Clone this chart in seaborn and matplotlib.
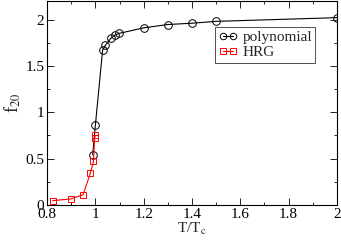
import pandas as pd
import matplotlib.pyplot as plt
import seaborn as sns
from matplotlib.ticker import MultipleLocator

# polynomial fit points
poly_t = [0.989, 1.0, 1.03, 1.041, 1.065, 1.083, 1.098, 1.2, 1.3, 1.4, 1.5, 2.0]
poly_f = [0.54, 0.86, 1.67, 1.72, 1.80, 1.835, 1.85, 1.91, 1.946, 1.96, 1.98, 2.02]

# hadron resonance gas points
hrg_t = [0.823, 0.898, 0.949, 0.979, 0.992, 0.997, 1.0]
hrg_f = [0.046, 0.065, 0.11, 0.34, 0.47, 0.72, 0.75]

sns.set_theme(style="ticks")
plt.rcParams['font.family'] = ['Liberation Serif', 'DejaVu Serif']
plt.rcParams['mathtext.fontset'] = 'stix'

df_poly = pd.DataFrame({'t': poly_t, 'f': poly_f})
df_hrg = pd.DataFrame({'t': hrg_t, 'f': hrg_f})

fig = plt.figure(figsize=(3.41, 2.4), dpi=100)
ax = fig.add_axes([0.138, 0.146, 0.850, 0.850])

sns.lineplot(data=df_poly, x='t', y='f', ax=ax, color='black', lw=0.8,
             marker='o', markersize=5.5, markerfacecolor='none',
             markeredgecolor='black', markeredgewidth=0.7, label='polynomial')
sns.lineplot(data=df_hrg, x='t', y='f', ax=ax, color='red', lw=0.8,
             marker='s', markersize=5, markerfacecolor='none',
             markeredgecolor='red', markeredgewidth=0.7, label='HRG')

ax.set_xlim(0.8, 2.0)
ax.set_ylim(0, 2.2)
ax.xaxis.set_major_locator(MultipleLocator(0.2))
ax.xaxis.set_minor_locator(MultipleLocator(0.1))
ax.yaxis.set_major_locator(MultipleLocator(0.5))
ax.yaxis.set_minor_locator(MultipleLocator(0.25))
ax.xaxis.set_major_formatter(plt.FuncFormatter(lambda v, p: f"{v:g}"))
ax.yaxis.set_major_formatter(plt.FuncFormatter(lambda v, p: f"{v:g}"))
ax.tick_params(which='both', direction='in', top=True, right=True,
               labelsize=11, width=0.6, colors='black', pad=2)
ax.tick_params(which='major', length=5)
ax.tick_params(which='minor', length=2.5)
for s in ax.spines.values():
    s.set_linewidth(0.8)
    s.set_color('black')

ax.set_xlabel(r'T/T$_\mathrm{c}$', fontsize=11, labelpad=0)
ax.set_ylabel(r'f$_{20}$', fontsize=13, labelpad=2)

leg = ax.legend(loc='upper right', bbox_to_anchor=(0.925, 0.87), fontsize=11,
                frameon=True, fancybox=False, edgecolor='black',
                numpoints=2, markerscale=0.85,
                handlelength=1.3, borderpad=0.2, labelspacing=0.1,
                handletextpad=0.3, borderaxespad=0)
leg.get_frame().set_linewidth(0.6)

fig.savefig('out.png', dpi=100)
